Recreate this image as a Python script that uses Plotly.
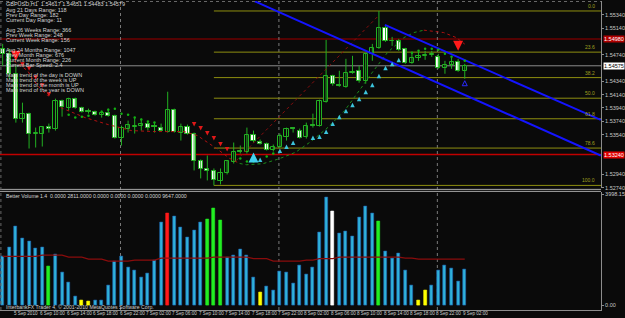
import numpy as np
import plotly.graph_objects as go

# ---------------- data ----------------
opens = [1.54830,1.54755,1.54455,1.53780,1.53855,1.53555,1.53555,1.53660,1.53630,1.54050,
         1.53945,1.54080,1.53945,1.53900,1.53885,1.53840,1.53870,1.53825,1.53495,1.53630,
         1.53660,1.53675,1.53705,1.53660,1.53645,1.53585,1.53915,1.53570,1.53660,1.53555,
         1.53135,1.53015,1.52985,1.52835,1.52955,1.53120,1.53285,1.53280,1.53540,1.53435,
         1.53405,1.53315,1.53360,1.53510,1.53630,1.53600,1.53510,1.53675,1.53670,1.54035,
         1.54425,1.54290,1.54260,1.54470,1.54500,1.54350,1.54755,1.54845,1.55145,1.54950,
         1.54950,1.54830,1.54620,1.54695,1.54725,1.54740,1.54710,1.54545,1.54590,1.54635,
         1.54500]
highs = [1.54905,1.54830,1.54575,1.54020,1.53870,1.53645,1.53660,1.53705,1.54080,1.54065,
         1.54095,1.54095,1.53960,1.53930,1.53900,1.53900,1.53930,1.53840,1.53675,1.53750,
         1.53795,1.53780,1.53735,1.53720,1.53705,1.54185,1.53930,1.53705,1.53690,1.53570,
         1.53165,1.53225,1.53030,1.53030,1.53150,1.53420,1.53375,1.53645,1.53600,1.53465,
         1.53420,1.53390,1.53555,1.53645,1.53645,1.53630,1.53720,1.53855,1.54065,1.54965,
         1.54440,1.54500,1.54680,1.54725,1.54575,1.54770,1.54905,1.55400,1.55190,1.55010,
         1.54980,1.54845,1.54770,1.54800,1.54800,1.54800,1.54755,1.54650,1.54695,1.54680,
         1.54605]
lows = [1.54575,1.54380,1.53720,1.53720,1.53330,1.53345,1.53360,1.53570,1.53600,1.53810,
        1.53900,1.53930,1.53870,1.53855,1.53825,1.53795,1.53810,1.53480,1.53375,1.53570,
        1.53555,1.53600,1.53600,1.53570,1.53585,1.53570,1.53570,1.53450,1.53540,1.53000,
        1.52880,1.52850,1.52775,1.52790,1.52940,1.53105,1.53255,1.53255,1.53420,1.53390,
        1.53300,1.53285,1.53345,1.53450,1.53570,1.53480,1.53480,1.53645,1.53660,1.54020,
        1.54275,1.54260,1.54245,1.54455,1.54320,1.54305,1.54650,1.54830,1.54935,1.54875,
        1.54800,1.54605,1.54605,1.54650,1.54665,1.54710,1.54530,1.54455,1.54530,1.54485,
        1.54380]
closes = [1.54755,1.54455,1.53780,1.53855,1.53555,1.53560,1.53660,1.53630,1.54050,1.53960,
          1.54080,1.53945,1.53885,1.53885,1.53840,1.53870,1.53825,1.53495,1.53645,1.53690,
          1.53665,1.53705,1.53645,1.53655,1.53600,1.53915,1.53585,1.53660,1.53555,1.53135,
          1.53015,1.52985,1.52850,1.52955,1.53135,1.53285,1.53280,1.53540,1.53450,1.53405,
          1.53315,1.53360,1.53525,1.53630,1.53625,1.53495,1.53675,1.53670,1.54050,1.54425,
          1.54305,1.54275,1.54470,1.54485,1.54350,1.54755,1.54845,1.55145,1.54950,1.54945,
          1.54815,1.54620,1.54695,1.54725,1.54740,1.54755,1.54545,1.54590,1.54635,1.54500,
          1.54575]

volumes = [1739,2077,2833,2412,2304,2041,2077,1404,1825,1163,
           817,299,155,133,169,169,695,1584,1764,1357,
           1260,983,1141,1620,2988,3312,3204,2797,2448,2700,
           2988,3096,3481,3049,1703,1775,2016,1800,1008,468,
           684,540,1199,1163,792,1440,1116,1357,2628,3888,
           3384,2581,2675,2495,3168,3564,3312,3024,1955,1667,
           1872,1249,720,180,540,709,1249,1440,1332,864,1296]
vol_class = list("bbbbbbbgbb" "bbyybbbbbb" "bbbbbrbbbb" "bggg" "bbbbbyb"
                 "bbbbbbbbbw" "bbbbbbgbbb" "bbyybbbbbbb")
vol_ma = [1760,1760,1760,1760,1760,1760,1800,1800,1800,1800,
          1728,1728,1728,1656,1656,1656,1584,1584,1584,1584,
          1620,1620,1620,1620,1692,1692,1692,1692,1692,1692,
          1692,1692,1728,1728,1728,1728,1728,1728,1674,1674,
          1674,1584,1584,1584,1584,1584,1620,1620,1674,1674,
          1674,1728,1728,1728,1728,1728,1728,1728,1728,1728,
          1728,1692,1692,1656,1656,1656,1656,1656,1656,1656,1656]

# horizontal levels
level_dark_red = 1.54980
level_red = 1.53240
separator_bars = [18, 42, 66]
fib_start_bar = 32
fib_ratios = [0.0, 23.6, 38.2, 50.0, 61.8, 78.6, 100.0]

# channel lines (bar index, price)
chan_upper_x = [57.9, 90.6]
chan_upper_y = [1.55190, 1.53760]
chan_lower_x = [36.5, 90.6]
chan_lower_y = [1.55620, 1.53225]
diag_x = [35.4, 56.9]
diag_y = [1.53150, 1.55325]

# indicator curves
redA_x = [1.7, 2.9, 3.8, 4.5, 5.6, 6.8]
redA_y = [1.54650, 1.54560, 1.54500, 1.54380, 1.54245, 1.54125]
redB_x = [8.8, 12.5, 16.0, 19.5, 23.0, 27.5, 29.5, 32.4, 34.4, 35.9]
redB_y = [1.53945, 1.53795, 1.53690, 1.53600, 1.53585, 1.53585, 1.53525, 1.53330, 1.53180, 1.53105]
green_x = [35.9, 36.9, 39.4, 41.9, 44.4, 46.9, 49.3, 51.8, 54.3, 55.8, 58.3, 60.8, 62.3, 63.8]
green_y = [1.53105, 1.53086, 1.53101, 1.53176, 1.53275, 1.53450, 1.53650, 1.53900, 1.54241,
           1.54451, 1.54775, 1.55000, 1.55075, 1.55111]
redC_x = [63.8, 66.8, 68.7, 70.0]
redC_y = [1.55111, 1.55075, 1.55000, 1.54901]

small_red_x = [3, 4, 5, 6, 7, 29, 30, 31, 32, 33, 34]
small_red_y = [1.54560, 1.54500, 1.54365, 1.54245, 1.54110, 1.53660, 1.53600, 1.53525, 1.53450, 1.53360, 1.53285]
big_red_x = [2, 69]
big_red_y = [1.54650, 1.54800]
cyan_x = [39, 42, 43, 44, 47, 48, 49, 50, 51, 52, 53, 54, 55, 56, 57, 58, 59, 60]
cyan_y = [1.53195, 1.53330, 1.53390, 1.53450, 1.53525, 1.53540, 1.53615, 1.53735, 1.53840,
          1.53930, 1.54020, 1.54110, 1.54215, 1.54320, 1.54455, 1.54575, 1.54635, 1.54695]
big_cyan_x = [38]
big_cyan_y = [1.53270]
gdot_x = [10, 11, 12, 13, 15, 16, 17, 18, 19, 20, 21, 22, 23, 36, 37, 38, 40, 41,
          62, 63, 64, 65, 66, 67, 68, 70]
gdot_y = [1.53840, 1.53795, 1.53810, 1.53825, 1.53885, 1.53915, 1.53930, 1.53855, 1.53840,
          1.53795, 1.53765, 1.53735, 1.53720, 1.53180, 1.53135, 1.53135, 1.53210, 1.53255,
          1.54770, 1.54800, 1.54830, 1.54830, 1.54815, 1.54755, 1.54710, 1.54650]
blue_mark_x = [70]
blue_mark_y = [1.54350]

info_lines = ["GBPUSD,H1  1.54617 1.54651 1.54483 1.54579",
              "Avg 21 Days Range: 118", "Prev Day Range: 182", "Current Day Range: 11", "",
              "Avg 26 Weeks Range: 366", "Prev Week Range: 248", "Current Week Range: 156", "",
              "Avg 24 Months Range: 1047", "Prev Month Range: 676", "Current Month Range: 226",
              "Current Bar Speed: 2.4", "",
              "Main trend of the day is DOWN", "Main trend of the week is UP",
              "Main trend of the month is UP", "Main trend of the year is DOWN"]
vol_title = "Better Volume 1.4  0.0000 2811.0000 0.0000 0.0000 0.0000 0.0000 9647.0000"
copyright_text = "InterbankFX Trader 4, \u00a9 2001-2010 MetaQuotes Software Corp."
time_labels = ["5 Sep 2010", "6 Sep 10:00", "6 Sep 14:00", "6 Sep 18:00", "6 Sep 22:00",
               "7 Sep 02:00", "7 Sep 06:00", "7 Sep 10:00", "7 Sep 14:00", "7 Sep 18:00",
               "7 Sep 22:00", "8 Sep 02:00", "8 Sep 06:00", "8 Sep 10:00", "8 Sep 14:00",
               "8 Sep 18:00", "8 Sep 22:00", "9 Sep 02:00"]
time_label_bars = [1.4 + 4 * k for k in range(len(time_labels))]

# ---------------- styling ----------------
BG = "#0a0a0a"
CANDLE = "#22b022"
FONT = "Liberation Sans, Arial, sans-serif"
W, H = 625, 318
ML, MR, MT, MB = 0, 15, 0, 8
PH = H - MT - MB          # plot height in px
def py(px):               # pixel row (from top of plot area) -> paper y
    return 1 - px / PH

X_RANGE = [-0.403, 90.64]
P_RANGE = [1.52730, 1.55550]
V_RANGE = [-180, 4068]

o = np.array(opens); h = np.array(highs); l = np.array(lows); c = np.array(closes)
n = len(o)
idx = np.arange(n)

fig = go.Figure()

# wicks
wx, wy = [], []
for i in range(n):
    wx += [i, i, None]
    wy += [l[i], h[i], None]
fig.add_trace(go.Scatter(x=wx, y=wy, mode="lines", line=dict(color=CANDLE, width=1),
                         hoverinfo="skip", xaxis="x", yaxis="y"))

body_lo = np.minimum(o, c)
body_h = np.maximum(np.abs(c - o), 0.00008)
bull = c >= o
bear = ~bull
fig.add_trace(go.Bar(x=idx[bull], y=body_h[bull], base=body_lo[bull], width=0.62,
                     marker=dict(color=BG, line=dict(color=CANDLE, width=1)),
                     xaxis="x", yaxis="y"))
fig.add_trace(go.Bar(x=idx[bear], y=body_h[bear], base=body_lo[bear], width=0.62,
                     marker=dict(color="#ffffff", line=dict(color=CANDLE, width=1)),
                     xaxis="x", yaxis="y"))

# indicator curves
for xs, ys, col in [(redA_x, redA_y, "#c01010"), (redB_x, redB_y, "#b01010"),
                    (green_x, green_y, "#1c8a1c"), (redC_x, redC_y, "#b01010"),
                    (diag_x, diag_y, "#8a0f0f")]:
    fig.add_trace(go.Scatter(x=xs, y=ys, mode="lines", line=dict(color=col, width=1, dash="dot"),
                             xaxis="x", yaxis="y"))

# channel
for xs, ys in [(chan_upper_x, chan_upper_y), (chan_lower_x, chan_lower_y)]:
    fig.add_trace(go.Scatter(x=xs, y=ys, mode="lines", line=dict(color="#1414ff", width=2),
                             xaxis="x", yaxis="y"))

# markers
fig.add_trace(go.Scatter(x=gdot_x, y=gdot_y, mode="markers",
                         marker=dict(symbol="circle", size=2.5, color="#12b012"), xaxis="x", yaxis="y"))
fig.add_trace(go.Scatter(x=cyan_x, y=cyan_y, mode="markers",
                         marker=dict(symbol="arrow-up", size=4.5, color="#3cc4dc"), xaxis="x", yaxis="y"))
fig.add_trace(go.Scatter(x=small_red_x, y=small_red_y, mode="markers",
                         marker=dict(symbol="arrow-down", size=4.5, color="#e01818"), xaxis="x", yaxis="y"))
fig.add_trace(go.Scatter(x=big_red_x, y=big_red_y, mode="markers",
                         marker=dict(symbol="arrow-down", size=10, color="#ff1a1a"), xaxis="x", yaxis="y"))
fig.add_trace(go.Scatter(x=big_cyan_x, y=big_cyan_y, mode="markers",
                         marker=dict(symbol="arrow-up", size=10, color="#40d0f0"), xaxis="x", yaxis="y"))
fig.add_trace(go.Scatter(x=blue_mark_x, y=blue_mark_y, mode="markers",
                         marker=dict(symbol="arrow-up-open", size=5, color="#2a2aff"), xaxis="x", yaxis="y"))

# volume
cmap = {"b": "#2fb2da", "g": "#22ee22", "y": "#ffff00", "r": "#ff1a1a", "w": "#ffffff"}
lmap = {"b": "#1f5fb0", "g": "#22ee22", "y": "#ffff00", "r": "#ff1a1a", "w": "#ffffff"}
fig.add_trace(go.Bar(x=idx, y=volumes, width=0.45,
                     marker=dict(color=[cmap[k] for k in vol_class],
                                 line=dict(color=[lmap[k] for k in vol_class], width=0.6)),
                     xaxis="x2", yaxis="y2"))
fig.add_trace(go.Scatter(x=idx, y=vol_ma, mode="lines", line=dict(color="#8a0c0c", width=1.3),
                         xaxis="x2", yaxis="y2"))

# ---------------- shapes ----------------
shapes = []
hi, lo = max(highs), min(lows)
for r in fib_ratios:
    lv = hi - (hi - lo) * r / 100.0
    shapes.append(dict(type="line", xref="x", yref="y", x0=fib_start_bar, x1=X_RANGE[1], y0=lv, y1=lv,
                       line=dict(color="#8f8f10", width=1), layer="below"))
shapes.append(dict(type="line", xref="paper", yref="y", x0=0, x1=1, y0=level_dark_red, y1=level_dark_red,
                   line=dict(color="#6e0000", width=1.5), layer="below"))
shapes.append(dict(type="line", xref="paper", yref="y", x0=0, x1=1, y0=level_red, y1=level_red,
                   line=dict(color="#c00000", width=1.5), layer="below"))
shapes.append(dict(type="line", xref="paper", yref="y", x0=0, x1=1, y0=closes[-1], y1=closes[-1],
                   line=dict(color="#8c8c8c", width=1), layer="below"))
for sb in separator_bars:
    shapes.append(dict(type="line", xref="x", yref="paper", x0=sb - 0.15, x1=sb - 0.15, y0=0, y1=1,
                       line=dict(color="#7a7a7a", width=1, dash="dot"), layer="below"))
# panel borders / separator
for ypx in [189, 191]:
    shapes.append(dict(type="line", xref="paper", yref="paper", x0=0, x1=1, y0=py(ypx), y1=py(ypx),
                       line=dict(color="#a8a8a8", width=1)))
shapes.append(dict(type="line", xref="paper", yref="paper", x0=0, x1=1, y0=py(0.5), y1=py(0.5),
                   line=dict(color="#6a6a6a", width=1, dash="dot")))
shapes.append(dict(type="line", xref="paper", yref="paper", x0=0.0015, x1=0.0015, y0=0, y1=1,
                   line=dict(color="#6a6a6a", width=1, dash="dot")))

# ---------------- annotations ----------------
ann = []
info_y = [3.5, 9, 14, 19, 24, 29, 34, 39, 44, 49, 54, 59, 64, 69, 74, 79, 84, 89]
for txt, ypx in zip(info_lines, info_y):
    if txt:
        ann.append(dict(text=txt, xref="paper", yref="paper", x=4 / 610, y=py(ypx), xanchor="left",
                        yanchor="middle", showarrow=False, font=dict(size=5.5, color="#d4d4d4", family=FONT)))
ann.append(dict(text=vol_title, xref="paper", yref="paper", x=4 / 610, y=py(195.5), xanchor="left",
                yanchor="middle", showarrow=False, font=dict(size=5.2, color="#d4d4d4", family=FONT)))
ann.append(dict(text=copyright_text, xref="paper", yref="paper", x=4 / 610, y=py(306.5), xanchor="left",
                yanchor="middle", showarrow=False, font=dict(size=5.2, color="#cfcfcf", family=FONT)))
for r in fib_ratios:
    lv = hi - (hi - lo) * r / 100.0
    ann.append(dict(text=f"{r:.1f}", xref="paper", yref="y", x=606 / 610, y=lv, xanchor="right",
                    yanchor="bottom", showarrow=False, font=dict(size=5, color="#a0a020", family=FONT)))
for tl, tb in zip(time_labels, time_label_bars):
    ann.append(dict(text=tl, xref="x2", yref="paper", x=tb, y=py(314), xanchor="left", yanchor="middle",
                    showarrow=False, font=dict(size=4.6, color="#cfcfcf", family=FONT)))
box_levels = [(level_dark_red, "#b00000", "#ffffff"), (level_red, "#e00000", "#ffffff"),
              (closes[-1], "#ffffff", "#000000")]
for val, bg, fg in box_levels:
    ann.append(dict(text=f"{val:.5f}", xref="paper", yref="y", x=1.003, y=val, xanchor="left",
                    yanchor="middle", showarrow=False, bgcolor=bg, borderpad=0,
                    font=dict(size=5.5, color=fg, family=FONT)))

# price tick labels, skipping those hidden under the coloured price boxes
price_ticks = [1.5534 - 0.0020 * k for k in range(14)]
price_ticks = [t for t in price_ticks if all(abs(t - b[0]) > 0.0011 for b in box_levels)]
fig.update_layout(
    width=W, height=H, margin=dict(l=ML, r=MR, t=MT, b=MB),
    paper_bgcolor=BG, plot_bgcolor=BG, showlegend=False, barmode="overlay", bargap=0,
    xaxis=dict(domain=[0, 1], range=X_RANGE, anchor="y", showticklabels=False, showgrid=False,
               zeroline=False, showline=False),
    yaxis=dict(domain=[py(188), 1], range=P_RANGE, side="right", anchor="x", showgrid=False,
               zeroline=False, showline=True, linecolor="#8c8c8c", linewidth=1,
               tickvals=price_ticks, ticktext=[f"{v:.5f}" for v in price_ticks],
               ticks="outside", ticklen=2, tickcolor="#8c8c8c",
               tickfont=dict(size=5.5, color="#c8c8c8", family=FONT)),
    xaxis2=dict(domain=[0, 1], range=X_RANGE, anchor="y2", showticklabels=False, showgrid=False,
                zeroline=False, showline=True, linecolor="#8c8c8c", linewidth=1, matches="x"),
    yaxis2=dict(domain=[0, py(192)], range=V_RANGE, side="right", anchor="x2", showgrid=False,
                zeroline=False, showline=True, linecolor="#8c8c8c", linewidth=1,
                tickvals=[0, 3998.15], ticktext=["0.00", "3998.15"], ticks="outside", ticklen=2,
                tickcolor="#8c8c8c", tickfont=dict(size=5.5, color="#c8c8c8", family=FONT)),
    shapes=shapes, annotations=ann,
)

fig.write_html("out.html")
